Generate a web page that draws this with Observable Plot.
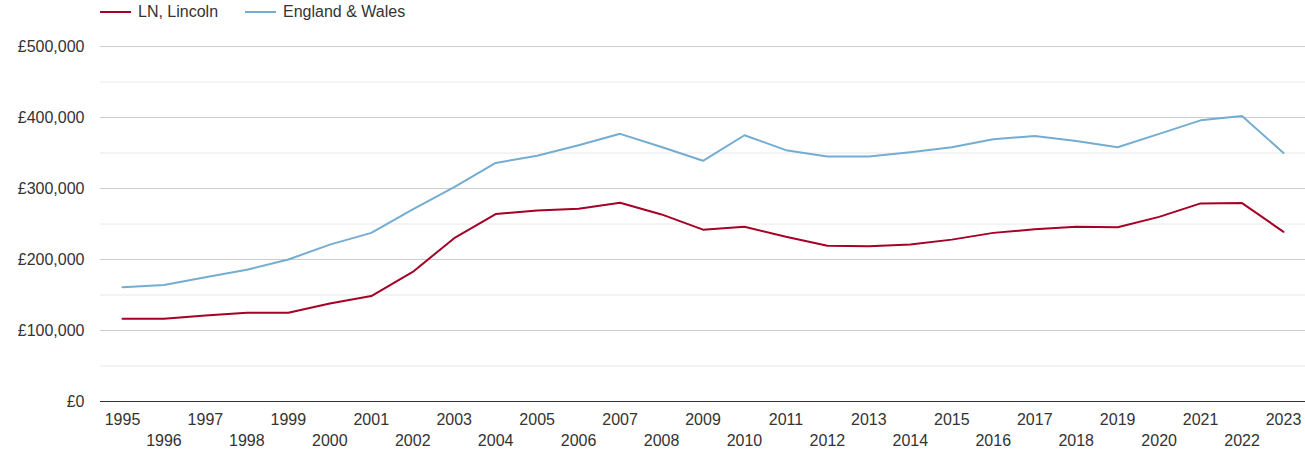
<!DOCTYPE html>
<html>
<head>
<meta charset="utf-8">
<script src="https://cdn.jsdelivr.net/npm/d3@7"></script>
<script src="https://cdn.jsdelivr.net/npm/@observablehq/plot@0.6"></script>
<style>
  html, body { margin: 0; padding: 0; background: #fff; }
  body { width: 1305px; height: 450px; overflow: hidden; font-family: "Liberation Sans", Arial, sans-serif; }
  #legend { height: 25px; position: relative; font-size: 16px; color: #333; }
  .item { position: absolute; top: 3px; display: flex; align-items: center; }
  .sw { width: 31px; height: 2px; margin-right: 7px; }
</style>
</head>
<body>
<div id="legend"></div>
<div id="chart"></div>
<script>
const years = [1995,1996,1997,1998,1999,2000,2001,2002,2003,2004,2005,2006,2007,2008,2009,2010,2011,2012,2013,2014,2015,2016,2017,2018,2019,2020,2021,2022,2023];
const lincoln = [116500,116500,121000,125000,125000,138000,148500,182500,230000,264000,269000,271500,280000,263500,242000,246000,232000,219500,218500,221000,228000,237500,242500,246000,245500,260000,279000,279500,239000];
const englandWales = [161000,164000,175000,185500,200000,221000,237500,270500,302000,336000,346000,361000,377000,358500,339000,375000,354000,345000,345000,351000,358000,369500,374000,367000,358000,377000,396000,402000,350000];
const seriesNames = ["LN, Lincoln", "England & Wales"];
const seriesColors = ["#a50026", "#74add1"];
const yTicks = [0,100000,200000,300000,400000,500000];
const yMinor = [50000,150000,250000,350000,450000];

const rows = [];
years.forEach((y, i) => {
  rows.push({year: y, value: lincoln[i], series: seriesNames[0]});
  rows.push({year: y, value: englandWales[i], series: seriesNames[1]});
});

// legend
const legend = document.getElementById("legend");
const lpos = [100, 245];
seriesNames.forEach((n, i) => {
  const d = document.createElement("div");
  d.className = "item";
  d.style.left = lpos[i] + "px";
  d.innerHTML = `<span class="sw" style="background:${seriesColors[i]}"></span><span>${n}</span>`;
  legend.appendChild(d);
});

const odd = years.filter(y => y % 2 === 1);
const even = years.filter(y => y % 2 === 0);

const chart = Plot.plot({
  width: 1305,
  height: 425,
  marginTop: 21,
  marginBottom: 49,
  marginLeft: 100,
  marginRight: 0,
  style: {fontFamily: "'Liberation Sans', Arial, sans-serif", fontSize: "16px", color: "#333", background: "#fff"},
  x: {domain: [1994.47, 2023.53], label: null},
  y: {domain: [0, 500000], label: null},
  color: {domain: seriesNames, range: seriesColors},
  marks: [
    Plot.gridY(yMinor, {stroke: "#e8e8e8", strokeOpacity: 1}),
    Plot.gridY(yTicks.slice(1), {stroke: "#cccccc", strokeOpacity: 1}),
    Plot.ruleY([0], {stroke: "#333"}),
    Plot.axisY(yTicks, {tickSize: 0, tickPadding: 16, fontSize: 16, tickFormat: d => "£" + d3.format(",")(d), label: null}),
    Plot.axisX(odd, {tickSize: 0, tickPadding: 12, fontSize: 16, tickFormat: d => String(d), label: null}),
    Plot.axisX(even, {tickSize: 0, tickPadding: 33, fontSize: 16, tickFormat: d => String(d), label: null}),
    Plot.line(rows, {x: "year", y: "value", z: "series", stroke: "series", strokeWidth: 2})
  ]
});
document.getElementById("chart").appendChild(chart);
</script>
</body>
</html>
